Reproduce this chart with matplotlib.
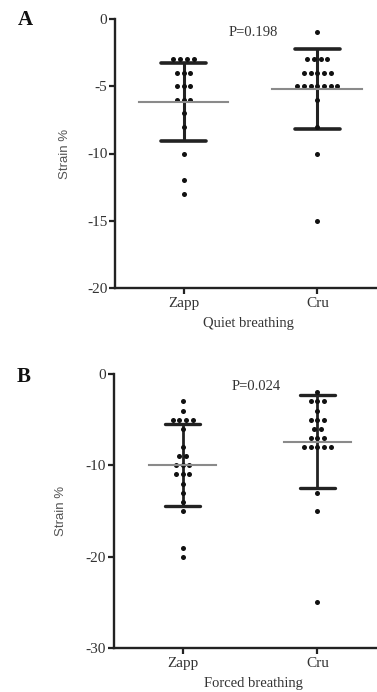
import numpy as np
import matplotlib
matplotlib.use("Agg")
import matplotlib.pyplot as plt

# ---------------- data ----------------
groups = ["Zapp", "Cru"]

quiet_zapp = [-3, -3, -3, -3, -4, -4, -4, -5, -5, -5, -6, -6, -6, -7, -8, -10, -12, -13]
quiet_cru = [-1, -3, -3, -3, -3, -4, -4, -4, -4, -4, -5, -5, -5, -5, -5, -5, -5, -6, -8, -10, -15]
forced_zapp = [-3, -4, -5, -5, -5, -5, -6, -8, -9, -9, -10, -10, -10, -11, -11, -11,
               -12, -13, -14, -15, -19, -20]
forced_cru = [-2, -3, -3, -3, -4, -5, -5, -5, -6, -6, -7, -7, -7, -8, -8, -8, -8, -8,
              -13, -15, -25]

quiet_mean = [-6.2, -5.2]
quiet_sd = [2.9, 3.0]
forced_mean = [-10.0, -7.4]
forced_sd = [4.5, 5.1]

quiet_ticks = [0, -5, -10, -15, -20]
forced_ticks = [0, -10, -20, -30]

p_quiet = "P=0.198"
p_forced = "P=0.024"
xlabel_quiet = "Quiet breathing"
xlabel_forced = "Forced breathing"
ylabel = "Strain %"

# ---------------- style ----------------
SERIF = ["Liberation Serif", "DejaVu Serif"]
SANS = ["Liberation Sans", "DejaVu Sans"]
LINE = "#222222"
TXT = "#333333"

W, H = 377, 692
fig = plt.figure(figsize=(W / 100, H / 100), dpi=100)


def swarm(values, spacing):
    vals = np.asarray(values, dtype=float)
    offs = np.zeros_like(vals)
    for v in np.unique(vals):
        idx = np.where(vals == v)[0]
        k = len(idx)
        offs[idx] = (np.arange(k) - (k - 1) / 2) * spacing
    return vals, offs


def panel(rect_px, xlim, ylim, ticks, data, means, sds, mean_hw, cap_hw, bar_lw,
          ptxt, ptxt_xy, xlab, xlab_xy, ylab, ylab_x):
    l, b, r, t = rect_px
    ax = fig.add_axes([l / W, 1 - b / H, (r - l) / W, (b - t) / H])
    ax.set_xlim(*xlim)
    ax.set_ylim(ylim, 0)
    for s in ["top", "right"]:
        ax.spines[s].set_visible(False)
    for s in ["left", "bottom"]:
        ax.spines[s].set_linewidth(1.7)
        ax.spines[s].set_color(LINE)
    ax.spines["left"].set_bounds(ylim, 0)
    ax.set_yticks(ticks)
    ax.set_yticklabels([str(t) for t in ticks], fontfamily=SERIF, fontsize=11, color=TXT)
    ax.set_xticks([1, 2])
    ax.set_xticklabels(groups, fontfamily=SERIF, fontsize=11, color=TXT)
    ax.tick_params(axis="both", width=1.6, length=4, color=LINE, pad=1.5)
    ax.tick_params(axis="x", pad=2.5)
    ax.set_ylabel(ylab, fontfamily=SANS, fontsize=9.5, color="#555555")
    ax.yaxis.set_label_coords(ylab_x, 0.5)

    for i, vals in enumerate(data):
        x0 = i + 1
        v, o = swarm(vals, 0.05)
        m, sd = means[i], sds[i]
        ax.plot([x0, x0], [m - sd, m + sd], color=LINE, lw=bar_lw, zorder=2,
                solid_capstyle="butt")
        for yy in (m - sd, m + sd):
            ax.plot([x0 - cap_hw, x0 + cap_hw], [yy, yy], color=LINE,
                    lw=bar_lw + 0.4, zorder=2, solid_capstyle="round")
        ax.scatter(x0 + o, v, s=13, color="#111111", zorder=3, linewidths=0,
                   clip_on=False)
        ax.plot([x0 - mean_hw, x0 + mean_hw], [m, m], color="#8a8a8a", lw=1.5,
                zorder=4)

    fig.text(ptxt_xy[0] / W, 1 - ptxt_xy[1] / H, ptxt, fontfamily=SERIF,
             fontsize=10.5, color=TXT, ha="center", va="center")
    fig.text(xlab_xy[0] / W, 1 - xlab_xy[1] / H, xlab, fontfamily=SERIF,
             fontsize=10.5, color=TXT, ha="center", va="center")
    return ax


panel((115, 288, 377, 19), (0.488, 2.446), -20, quiet_ticks,
      [quiet_zapp, quiet_cru], quiet_mean, quiet_sd, 0.335, 0.17, 2.2,
      p_quiet, (253, 33), xlabel_quiet, (248, 323), ylabel, -0.168)

panel((113.5, 648, 377, 374), (0.486, 2.443), -30, forced_ticks,
      [forced_zapp, forced_cru], forced_mean, forced_sd, 0.25, 0.13, 2.0,
      p_forced, (256, 387), xlabel_forced, (253, 683), ylabel, -0.176)

fig.text(25 / W, 1 - 20 / H, "A", fontfamily=SERIF, fontweight="bold",
         fontsize=15, color="#111111", ha="center", va="center")
fig.text(24 / W, 1 - 377 / H, "B", fontfamily=SERIF, fontweight="bold",
         fontsize=15, color="#111111", ha="center", va="center")

fig.savefig("out.png", dpi=100)
